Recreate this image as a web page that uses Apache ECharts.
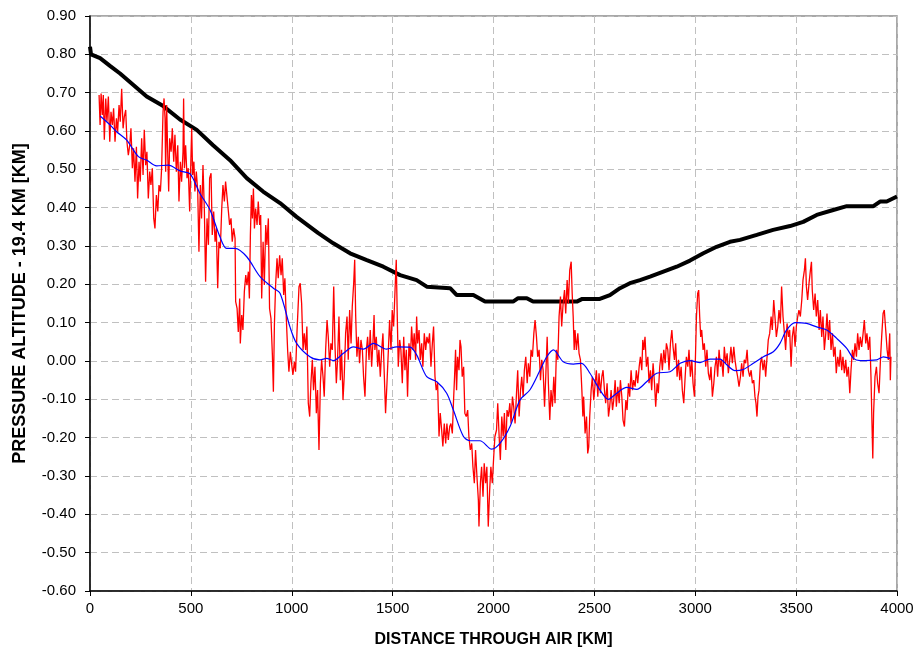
<!DOCTYPE html>
<html>
<head>
<meta charset="utf-8">
<title>Pressure altitude</title>
<script src="https://cdn.jsdelivr.net/npm/echarts@6.0.0/dist/echarts.min.js"></script>
<style>
  html, body { margin: 0; padding: 0; background: #fff; }
  #chart { width: 916px; height: 650px; }
</style>
</head>
<body>
<div id="chart"></div>
<script>
// axis ticks
var xTicks = [0, 500, 1000, 1500, 2000, 2500, 3000, 3500, 4000];
var yTicks = [-0.6, -0.5, -0.4, -0.3, -0.2, -0.1, 0, 0.1, 0.2, 0.3, 0.4, 0.5, 0.6, 0.7, 0.8, 0.9];

// black: flight level (stepped)
var flightLevel = [
  [0,0.82],[5,0.80],[50,0.79],[99,0.77],[149,0.75],[215,0.72],[281,0.69],[363,0.665],[446,0.63],
  [529,0.603],[610,0.563],[694,0.524],[777,0.477],[858,0.442],[942,0.412],[1024,0.376],[1130,0.334],
  [1206,0.307],[1289,0.281],[1372,0.263],[1454,0.246],[1537,0.224],[1619,0.211],[1669,0.194],
  [1785,0.19],[1818,0.172],[1900,0.172],[1958,0.155],[2097,0.155],[2122,0.164],[2165,0.164],
  [2196,0.155],[2413,0.155],[2440,0.162],[2527,0.162],[2577,0.172],[2627,0.19],[2676,0.203],
  [2726,0.211],[2776,0.22],[2842,0.233],[2908,0.246],[2974,0.262],[3040,0.281],[3106,0.298],
  [3172,0.311],[3222,0.316],[3305,0.329],[3386,0.342],[3470,0.352],[3535,0.363],[3602,0.381],
  [3684,0.394],[3751,0.404],[3883,0.404],[3916,0.416],[3949,0.416],[4000,0.429]
];

// red: raw pressure altitude
var pressureRaw = [
  [45,0.694],[50,0.616],[55,0.698],[61,0.642],[66,0.694],[71,0.577],[78,0.685],[84,0.624],[91,0.69],
  [98,0.572],[104,0.65],[111,0.616],[117,0.659],[124,0.572],[131,0.633],[137,0.598],[144,0.668],
  [150,0.624],[157,0.71],[164,0.607],[170,0.637],[177,0.655],[183,0.572],[190,0.537],[197,0.563],
  [203,0.607],[210,0.503],[216,0.555],[223,0.468],[230,0.559],[236,0.424],[243,0.52],[249,0.468],
  [256,0.581],[263,0.485],[269,0.603],[276,0.511],[282,0.546],[289,0.424],[296,0.494],[302,0.459],
  [309,0.503],[316,0.372],[322,0.346],[329,0.433],[336,0.39],[342,0.459],[349,0.442],[355,0.503],
  [362,0.65],[367,0.685],[372,0.633],[375,0.494],[380,0.668],[385,0.546],[390,0.442],[395,0.581],
  [402,0.546],[408,0.607],[415,0.52],[421,0.59],[428,0.494],[435,0.563],[441,0.416],[448,0.52],
  [454,0.468],[461,0.546],[464,0.685],[468,0.503],[474,0.563],[481,0.477],[487,0.503],[494,0.39],
  [501,0.546],[504,0.607],[509,0.485],[515,0.52],[520,0.442],[527,0.494],[534,0.442],[540,0.285],
  [547,0.459],[553,0.372],[560,0.511],[567,0.39],[573,0.207],[580,0.372],[587,0.303],[593,0.477],
  [600,0.49],[606,0.329],[613,0.39],[620,0.311],[626,0.346],[633,0.19],[639,0.311],[646,0.294],
  [653,0.398],[659,0.459],[666,0.416],[672,0.468],[679,0.471],[686,0.39],[692,0.355],[699,0.372],
  [705,0.311],[712,0.346],[719,0.32],[722,0.155],[729,0.137],[735,0.076],[742,0.163],[745,0.046],
  [752,0.12],[758,0.081],[765,0.181],[772,0.224],[778,0.198],[785,0.233],[790,0.163],[795,0.329],
  [800,0.433],[805,0.372],[810,0.45],[815,0.346],[821,0.398],[828,0.355],[834,0.416],[841,0.355],
  [846,0.381],[851,0.163],[858,0.311],[864,0.198],[871,0.355],[877,0.303],[884,0.372],[890,0.137],
  [897,0.111],[904,0.016],[909,-0.08],[914,0.094],[920,0.198],[927,0.268],[933,0.216],[940,0.276],
  [947,0.224],[953,0.268],[960,0.172],[966,0.216],[973,0.111],[980,0.024],[986,-0.028],[993,0.024],
  [1000,-0.01],[1006,-0.036],[1013,-0.002],[1019,-0.028],[1026,0.076],
  [1036,0.194],[1042,0.203],[1049,0.15],[1056,0.029],[1062,0.072],[1069,0.029],[1075,0.09],
  [1082,-0.11],[1089,-0.145],[1095,-0.058],[1102,0.003],[1108,-0.076],[1115,-0.015],[1122,-0.136],
  [1128,-0.076],[1135,-0.232],[1142,-0.058],[1148,0.003],[1155,-0.041],[1161,-0.093],[1168,0.029],
  [1175,0.107],[1181,0.063],[1188,-0.015],[1194,0.046],[1201,0.029],[1208,0.194],[1214,0.046],
  [1221,-0.058],[1227,0.003],[1234,0.116],[1241,-0.05],[1247,0.029],[1254,-0.102],[1260,-0.041],
  [1267,0.072],[1274,0.116],[1280,0.003],[1287,0.133],[1294,0.046],[1300,0.142],[1307,0.203],
  [1312,0.264],[1317,0.116],[1323,0.011],[1330,0.063],[1336,-0.006],[1343,0.055],[1350,0.029],
  [1356,-0.041],[1363,-0.093],[1370,0.029],[1376,0.063],[1383,0.003],[1389,0.081],[1396,-0.015],
  [1403,0.055],[1408,0.12],[1412,0.029],[1419,0.063],[1426,-0.015],[1432,0.029],[1439,-0.041],
  [1446,0.029],[1452,0.072],[1459,-0.041],[1465,-0.136],[1472,-0.058],[1479,0.029],[1485,0.107],
  [1492,0.029],[1498,0.133],[1505,0.09],[1512,0.185],[1518,0.264],[1523,0.116],[1528,-0.015],
  [1535,0.055],[1541,0.029],[1548,-0.058],[1555,0.063],[1561,-0.024],[1568,0.029],[1574,-0.093],
  [1581,0.046],[1588,0.003],[1594,0.09],[1601,0.029],[1607,0.072],[1614,0.003],[1619,0.116],
  [1624,0.046],[1631,0.081],[1637,0.003],[1644,0.046],[1650,-0.015],[1657,0.072],[1664,0.029],
  [1670,0.063],[1677,0.046],[1683,0.072],[1690,-0.015],[1697,0.046],[1703,0.09],[1710,-0.041],
  [1716,-0.076],[1723,-0.058],[1730,-0.197],[1736,-0.136],[1743,-0.18],[1749,-0.223],[1756,-0.163],
  [1763,-0.215],[1769,-0.163],[1776,-0.206],[1783,-0.171],[1789,-0.163],[1796,-0.189],[1802,-0.102],
  [1807,-0.041],[1812,0.029],[1817,-0.076],[1822,0.011],[1829,-0.024],[1834,0.055],[1839,0.037],
  [1845,-0.041],[1852,-0.015],[1858,-0.136],[1865,-0.145],[1872,-0.128],[1878,-0.197],[1885,-0.232],
  [1892,-0.215],[1898,-0.276],[1905,-0.319],[1911,-0.232],[1918,-0.302],[1925,-0.363],[1928,-0.432],
  [1935,-0.319],[1941,-0.276],[1948,-0.354],[1954,-0.267],[1961,-0.319],[1967,-0.276],[1974,-0.432],
  [1981,-0.337],[1987,-0.276],[1994,-0.319],[2001,-0.25],[2007,-0.197],
  [2015,-0.18],[2021,-0.11],[2028,-0.197],[2034,-0.258],[2041,-0.145],[2048,-0.197],[2054,-0.136],
  [2061,-0.232],[2067,-0.128],[2074,-0.145],[2081,-0.11],[2087,-0.163],[2094,-0.093],[2100,-0.119],
  [2107,-0.163],[2114,-0.084],[2120,-0.024],[2127,-0.145],[2134,-0.076],[2140,-0.041],[2147,-0.093],
  [2153,-0.024],[2160,0.011],[2167,-0.058],[2173,-0.006],[2180,-0.041],[2186,0.029],[2193,0.011],
  [2200,0.072],[2206,0.107],[2213,0.063],[2219,0.011],[2226,0.029],[2233,-0.05],[2239,0.003],
  [2246,-0.024],[2253,-0.119],[2259,-0.041],[2266,0.063],[2272,-0.058],[2279,-0.154],[2285,-0.076],
  [2292,-0.119],[2299,-0.041],[2305,-0.11],[2312,0.029],[2319,0.003],[2325,0.116],[2332,0.168],
  [2338,0.09],[2345,0.15],[2352,0.185],[2358,0.124],[2365,0.211],[2371,0.15],[2378,0.237],
  [2385,0.259],[2390,0.176],[2395,0.116],[2400,0.029],[2404,0.081],[2411,0.029],[2418,0.072],
  [2424,0.02],[2431,0.003],[2438,-0.076],[2443,-0.145],[2447,-0.093],[2454,-0.189],[2461,-0.145],
  [2467,-0.241],[2472,-0.224],[2477,-0.145],[2484,-0.076],[2490,-0.041],[2497,-0.102],[2504,-0.058],
  [2510,-0.024],[2517,-0.093],[2523,-0.032],[2530,-0.084],[2537,-0.041],[2543,-0.024],[2550,-0.076],
  [2556,-0.11],[2563,-0.058],[2570,-0.145],[2576,-0.119],[2583,-0.076],[2590,-0.128],[2596,-0.102],
  [2603,-0.05],[2609,-0.119],[2616,-0.067],[2623,-0.11],[2629,-0.05],[2636,-0.093],[2642,-0.154],
  [2649,-0.171],[2656,-0.102],[2662,-0.128],[2669,-0.058],[2675,-0.093],[2682,-0.024],[2689,-0.076],
  [2695,-0.05],[2702,-0.067],[2708,-0.024],[2715,-0.058],[2722,-0.015],[2728,0.011],[2735,-0.024],
  [2740,0.055],[2745,0.029],[2751,0.063],[2758,-0.015],[2765,0.011],[2771,-0.058],[2778,-0.024],
  [2784,-0.076],[2791,-0.006],[2798,-0.058],[2804,-0.119],[2811,-0.058],[2817,-0.084],[2824,-0.015],
  [2831,0.02],[2837,-0.024],[2844,0.029],[2851,-0.006],[2857,0.046],[2864,0.029],[2870,-0.024],
  [2877,0.046],[2884,0.081],[2890,0.037],[2897,0.003],[2903,0.046],[2910,-0.041],[2917,0.003],
  [2923,-0.05],[2930,-0.015],[2936,-0.076],[2943,-0.11],[2950,-0.041],[2956,0.011],[2963,-0.015],
  [2969,0.029],[2976,-0.041],[2983,0.003],[2989,-0.058],[2996,-0.093],
  [3006,0.116],[3012,0.176],[3017,0.185],[3022,0.116],[3027,0.063],[3032,0.081],[3039,0.029],
  [3045,0.046],[3052,-0.015],[3058,0.029],[3065,-0.032],[3072,-0.05],[3078,-0.015],[3085,-0.093],
  [3092,-0.058],[3098,-0.015],[3105,0.011],[3111,-0.041],[3118,0.029],[3125,-0.015],[3131,0.003],
  [3138,-0.041],[3144,0.037],[3151,-0.006],[3158,0.02],[3164,-0.032],[3171,0.003],[3177,0.037],
  [3184,-0.006],[3191,0.037],[3197,0.003],[3204,-0.024],[3210,-0.041],[3217,-0.067],[3224,-0.041],
  [3230,-0.006],[3237,-0.041],[3243,0.003],[3250,-0.006],[3257,0.029],[3263,-0.024],[3270,-0.041],
  [3277,-0.024],[3283,-0.058],[3290,-0.05],[3296,-0.093],[3301,-0.11],[3306,-0.145],[3311,-0.093],
  [3316,-0.076],[3323,-0.006],[3329,0.011],[3336,-0.024],[3343,0.003],[3349,-0.041],[3356,0.011],
  [3362,0.055],[3369,0.072],[3376,0.116],[3382,0.081],[3389,0.159],[3395,0.116],[3402,0.063],
  [3409,0.09],[3415,0.133],[3422,0.098],[3428,0.194],[3435,0.116],[3442,0.072],[3448,0.029],
  [3455,0.098],[3462,0.063],[3468,0.081],[3475,-0.015],[3481,0.063],[3488,0.09],[3495,0.037],
  [3501,0.09],[3508,0.116],[3514,0.133],[3521,0.116],[3528,0.159],[3534,0.211],[3541,0.237],
  [3546,0.268],[3551,0.194],[3557,0.159],[3564,0.203],[3571,0.237],[3576,0.259],[3580,0.185],
  [3587,0.133],[3594,0.176],[3600,0.116],[3607,0.159],[3614,0.081],[3620,0.133],[3627,0.063],
  [3633,0.116],[3640,0.029],[3647,0.072],[3653,0.124],[3660,0.055],[3666,0.107],[3673,0.029],
  [3680,0.072],[3686,0.011],[3693,0.037],[3699,-0.032],[3706,0.011],[3713,-0.015],[3719,0.029],
  [3726,-0.024],[3732,0.011],[3739,-0.032],[3746,0.003],[3752,-0.041],[3759,-0.015],[3766,-0.084],
  [3772,-0.024],[3779,0.029],[3785,0.003],[3792,0.046],[3799,0.011],[3805,0.072],[3812,0.029],
  [3818,0.063],[3825,0.037],[3832,0.072],[3838,0.107],[3845,0.046],[3851,0.072],[3858,0.029],
  [3865,0.063],[3871,-0.041],[3876,-0.163],[3880,-0.254],[3884,-0.136],[3891,-0.041],[3898,-0.015],
  [3904,-0.058],[3911,-0.084],[3918,0.003],[3924,0.063],[3931,0.124],[3937,0.133],[3944,0.081],
  [3951,0.029],[3957,0.003],[3964,0.072],[3967,-0.05],[3970,0.011]
];

// blue: smoothed pressure altitude
var pressureSmooth = [
  [50,0.639],[99,0.616],[132,0.598],[182,0.576],[240,0.533],[281,0.524],[330,0.509],[388,0.511],
  [446,0.496],[496,0.488],[545,0.437],[595,0.394],[644,0.324],[677,0.294],[719,0.294],[777,0.272],
  [843,0.22],[909,0.19],[942,0.177],[991,0.089],[1024,0.046],[1090,0.011],[1140,0.003],[1173,0.007],
  [1206,0.001],[1256,0.02],[1305,0.037],[1355,0.031],[1405,0.046],[1470,0.031],[1520,0.037],
  [1586,0.036],[1619,0.016],[1669,-0.041],[1719,-0.054],[1768,-0.084],[1801,-0.128],[1851,-0.197],
  [1884,-0.208],[1933,-0.208],[1991,-0.23],[2032,-0.215],[2082,-0.171],[2131,-0.102],[2181,-0.075],
  [2230,-0.025],[2264,0.011],[2297,0.029],[2346,-0.002],[2396,-0.008],[2437,-0.006],[2478,-0.032],
  [2528,-0.076],[2569,-0.1],[2611,-0.084],[2660,-0.069],[2710,-0.074],[2759,-0.054],[2809,-0.032],
  [2875,-0.028],[2925,-0.006],[2974,0.001],[3024,-0.004],[3073,0.005],[3123,0.005],[3156,-0.01],
  [3197,-0.025],[3238,-0.022],[3288,-0.006],[3338,0.011],[3387,0.024],[3420,0.046],[3453,0.081],
  [3495,0.1],[3552,0.098],[3602,0.089],[3652,0.081],[3701,0.059],[3751,0.033],[3784,0.007],
  [3817,0.001],[3900,0.003],[3933,0.011],[3966,0.007]
];

var fontFamily = 'Liberation Sans, Arial, sans-serif';
var gridLine = { show: true, lineStyle: { color: '#c0c0c0', width: 1, type: [7, 4] } };

var option = {
  animation: false,
  backgroundColor: '#fff',
  grid: {
    left: 90, right: 19, top: 16, bottom: 59,
    show: true, borderColor: '#8c8c8c', borderWidth: 1.5,
    outerBoundsMode: 'none'
  },
  xAxis: {
    type: 'value',
    min: xTicks[0],
    max: xTicks[xTicks.length - 1],
    interval: 500,
    name: 'DISTANCE THROUGH AIR [KM]',
    nameLocation: 'middle',
    nameGap: 41,
    nameTextStyle: { fontFamily: fontFamily, fontSize: 16, fontWeight: 'bold', color: '#000' },
    axisLine: { show: true, onZero: false, lineStyle: { color: '#000', width: 1.5 } },
    axisTick: { show: true, length: 5, lineStyle: { color: '#000' } },
    axisLabel: {
      fontFamily: fontFamily, fontSize: 15, color: '#000', margin: 10,
      formatter: function (v) { return String(v); }
    },
    splitLine: gridLine
  },
  yAxis: {
    type: 'value',
    min: yTicks[0],
    max: yTicks[yTicks.length - 1],
    interval: 0.1,
    name: 'PRESSURE ALTITUDE - 19.4 KM [KM]',
    nameLocation: 'middle',
    nameRotate: 90,
    nameGap: 61,
    nameTextStyle: { fontFamily: fontFamily, fontSize: 18, fontWeight: 'bold', color: '#000' },
    axisLine: { show: true, onZero: false, lineStyle: { color: '#000', width: 1.5 } },
    axisTick: { show: true, length: 5, lineStyle: { color: '#000' } },
    axisLabel: {
      fontFamily: fontFamily, fontSize: 15, color: '#000', margin: 14,
      formatter: function (v) { return v.toFixed(2); }
    },
    splitLine: gridLine
  },
  series: [
    {
      name: 'flight level',
      type: 'line',
      data: flightLevel,
      showSymbol: false,
      lineStyle: { color: '#000', width: 4 },
      z: 2
    },
    {
      name: 'raw',
      type: 'line',
      data: pressureRaw,
      showSymbol: false,
      lineStyle: { color: '#ff0000', width: 1.3 },
      z: 3
    },
    {
      name: 'smoothed',
      type: 'line',
      data: pressureSmooth,
      showSymbol: false,
      smooth: 0.3,
      lineStyle: { color: '#0000ff', width: 1.2 },
      z: 4
    }
  ]
};

var chart = echarts.init(document.getElementById('chart'));
chart.setOption(option);
window.onresize = function () {
  chart.resize();
};
</script>
</body>
</html>
